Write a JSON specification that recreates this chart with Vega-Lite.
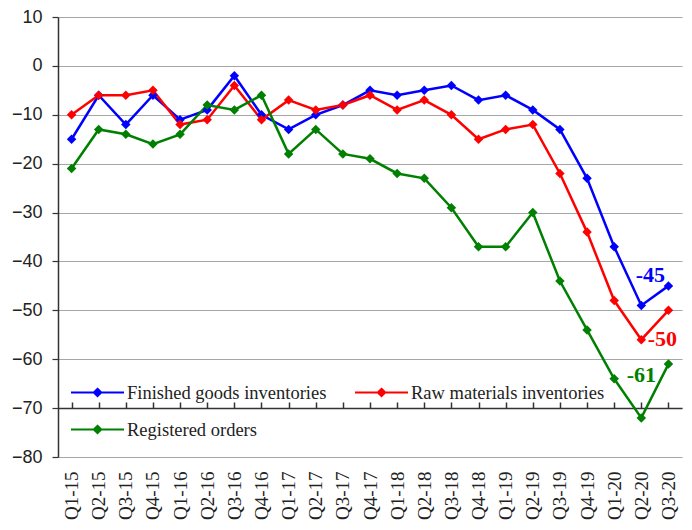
{
 "$schema": "https://vega.github.io/schema/vega-lite/v6.json",
 "autosize": "none",
 "padding": {"left": 58, "top": 17, "right": 10, "bottom": 73},
 "width": 624,
 "height": 440,
 "background": "white",
 "config": {"view": {"stroke": null}, "font": "Liberation Sans"},
 "datasets": {
  "main": [
   {"q":"Q1-15","s":"Finished goods inventories","v":-15},
   {"q":"Q2-15","s":"Finished goods inventories","v":-6},
   {"q":"Q3-15","s":"Finished goods inventories","v":-12},
   {"q":"Q4-15","s":"Finished goods inventories","v":-6},
   {"q":"Q1-16","s":"Finished goods inventories","v":-11},
   {"q":"Q2-16","s":"Finished goods inventories","v":-9},
   {"q":"Q3-16","s":"Finished goods inventories","v":-2},
   {"q":"Q4-16","s":"Finished goods inventories","v":-10},
   {"q":"Q1-17","s":"Finished goods inventories","v":-13},
   {"q":"Q2-17","s":"Finished goods inventories","v":-10},
   {"q":"Q3-17","s":"Finished goods inventories","v":-8},
   {"q":"Q4-17","s":"Finished goods inventories","v":-5},
   {"q":"Q1-18","s":"Finished goods inventories","v":-6},
   {"q":"Q2-18","s":"Finished goods inventories","v":-5},
   {"q":"Q3-18","s":"Finished goods inventories","v":-4},
   {"q":"Q4-18","s":"Finished goods inventories","v":-7},
   {"q":"Q1-19","s":"Finished goods inventories","v":-6},
   {"q":"Q2-19","s":"Finished goods inventories","v":-9},
   {"q":"Q3-19","s":"Finished goods inventories","v":-13},
   {"q":"Q4-19","s":"Finished goods inventories","v":-23},
   {"q":"Q1-20","s":"Finished goods inventories","v":-37},
   {"q":"Q2-20","s":"Finished goods inventories","v":-49},
   {"q":"Q3-20","s":"Finished goods inventories","v":-45},
   {"q":"Q1-15","s":"Raw materials inventories","v":-10},
   {"q":"Q2-15","s":"Raw materials inventories","v":-6},
   {"q":"Q3-15","s":"Raw materials inventories","v":-6},
   {"q":"Q4-15","s":"Raw materials inventories","v":-5},
   {"q":"Q1-16","s":"Raw materials inventories","v":-12},
   {"q":"Q2-16","s":"Raw materials inventories","v":-11},
   {"q":"Q3-16","s":"Raw materials inventories","v":-4},
   {"q":"Q4-16","s":"Raw materials inventories","v":-11},
   {"q":"Q1-17","s":"Raw materials inventories","v":-7},
   {"q":"Q2-17","s":"Raw materials inventories","v":-9},
   {"q":"Q3-17","s":"Raw materials inventories","v":-8},
   {"q":"Q4-17","s":"Raw materials inventories","v":-6},
   {"q":"Q1-18","s":"Raw materials inventories","v":-9},
   {"q":"Q2-18","s":"Raw materials inventories","v":-7},
   {"q":"Q3-18","s":"Raw materials inventories","v":-10},
   {"q":"Q4-18","s":"Raw materials inventories","v":-15},
   {"q":"Q1-19","s":"Raw materials inventories","v":-13},
   {"q":"Q2-19","s":"Raw materials inventories","v":-12},
   {"q":"Q3-19","s":"Raw materials inventories","v":-22},
   {"q":"Q4-19","s":"Raw materials inventories","v":-34},
   {"q":"Q1-20","s":"Raw materials inventories","v":-48},
   {"q":"Q2-20","s":"Raw materials inventories","v":-56},
   {"q":"Q3-20","s":"Raw materials inventories","v":-50},
   {"q":"Q1-15","s":"Registered orders","v":-21},
   {"q":"Q2-15","s":"Registered orders","v":-13},
   {"q":"Q3-15","s":"Registered orders","v":-14},
   {"q":"Q4-15","s":"Registered orders","v":-16},
   {"q":"Q1-16","s":"Registered orders","v":-14},
   {"q":"Q2-16","s":"Registered orders","v":-8},
   {"q":"Q3-16","s":"Registered orders","v":-9},
   {"q":"Q4-16","s":"Registered orders","v":-6},
   {"q":"Q1-17","s":"Registered orders","v":-18},
   {"q":"Q2-17","s":"Registered orders","v":-13},
   {"q":"Q3-17","s":"Registered orders","v":-18},
   {"q":"Q4-17","s":"Registered orders","v":-19},
   {"q":"Q1-18","s":"Registered orders","v":-22},
   {"q":"Q2-18","s":"Registered orders","v":-23},
   {"q":"Q3-18","s":"Registered orders","v":-29},
   {"q":"Q4-18","s":"Registered orders","v":-37},
   {"q":"Q1-19","s":"Registered orders","v":-37},
   {"q":"Q2-19","s":"Registered orders","v":-30},
   {"q":"Q3-19","s":"Registered orders","v":-44},
   {"q":"Q4-19","s":"Registered orders","v":-54},
   {"q":"Q1-20","s":"Registered orders","v":-64},
   {"q":"Q2-20","s":"Registered orders","v":-72},
   {"q":"Q3-20","s":"Registered orders","v":-61}
  ]
 },
 "data": {"name": "main"},
 "encoding": {
  "y": {
   "field": "v", "type": "quantitative",
   "scale": {"domain": [-80, 10], "nice": false, "zero": false},
   "axis": {
    "title": null, "values": [-80, -70, -60, -50, -40, -30, -20, -10, 0, 10],
    "grid": true, "gridColor": "#a6a6a6", "gridWidth": 1.2,
    "domainColor": "#333333", "domainWidth": 1.5,
    "tickColor": "#333333", "tickSize": 6, "tickWidth": 1.2,
    "labelFont": "Liberation Sans", "labelFontSize": 18, "labelColor": "#222222", "labelPadding": 10
   }
  },
  "color": {
   "field": "s", "type": "nominal",
   "scale": {"domain": ["Finished goods inventories", "Raw materials inventories", "Registered orders"], "range": ["#0000ff", "#ff0000", "#008000"]},
   "legend": {
    "title": null, "orient": "none", "legendX": 12, "legendY": 348,
    "direction": "horizontal",
    "columns": 2, "columnPadding": 24, "rowPadding": -23,
    "symbolType": "M-1,0L1,0M0,-0.14L0.14,0L0,0.14L-0.14,0Z",
    "symbolSize": 2809, "symbolStrokeWidth": 2,
    "labelFont": "Liberation Serif", "labelFontSize": 18.5, "labelColor": "#222222",
    "labelOffset": 2, "labelLimit": 400
   }
  }
 },
 "layer": [
  {
   "mark": {"type": "line", "strokeWidth": 2.5},
   "encoding": {
    "x": {"field": "q", "type": "ordinal", "sort": null,
     "axis": {"title": null, "labelAngle": -90, "labelFont": "Liberation Serif", "labelFontSize": 19,
      "labelColor": "#222222", "ticks": false, "domain": false, "grid": false, "labelPadding": 14}}
   }
  },
  {
   "mark": {"type": "point", "shape": "diamond", "filled": true, "size": 90, "opacity": 1},
   "encoding": {
    "x": {"field": "q", "type": "ordinal", "sort": null,
     "axis": {"title": null, "labels": false, "ticks": true, "tickSize": 6, "tickWidth": 1.5, "bandPosition": 0,
      "domain": true, "domainColor": "#333333", "domainWidth": 1.5, "tickColor": "#333333",
      "offset": -391, "grid": false}}
   }
  },
  {
   "transform": [{"filter": "datum.q === 'Q3-20' && datum.s === 'Finished goods inventories'"}],
   "mark": {"type": "text", "font": "Liberation Serif", "fontWeight": "bold", "fontSize": 22, "dx": -18, "dy": -11, "color": "#0000ff"},
   "encoding": {"x": {"field": "q", "type": "ordinal", "sort": null, "axis": null}, "text": {"field": "v"}, "color": {"value": "#0000ff"}}
  },
  {
   "transform": [{"filter": "datum.q === 'Q3-20' && datum.s === 'Raw materials inventories'"}],
   "mark": {"type": "text", "font": "Liberation Serif", "fontWeight": "bold", "fontSize": 22, "dx": -6, "dy": 29, "color": "#ff0000"},
   "encoding": {"x": {"field": "q", "type": "ordinal", "sort": null, "axis": null}, "text": {"field": "v"}, "color": {"value": "#ff0000"}}
  },
  {
   "transform": [{"filter": "datum.q === 'Q3-20' && datum.s === 'Registered orders'"}],
   "mark": {"type": "text", "font": "Liberation Serif", "fontWeight": "bold", "fontSize": 22, "dx": -27, "dy": 11, "color": "#008000"},
   "encoding": {"x": {"field": "q", "type": "ordinal", "sort": null, "axis": null}, "text": {"field": "v"}, "color": {"value": "#008000"}}
  }
 ],
 "resolve": {"axis": {"x": "independent"}}
}
